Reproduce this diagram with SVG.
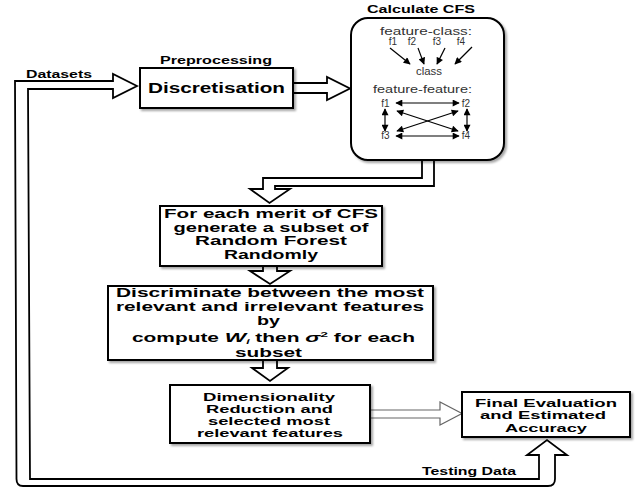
<svg xmlns="http://www.w3.org/2000/svg" width="641" height="487" viewBox="0 0 641 487">
<style>
.box{fill:#fff;stroke:#000;stroke-width:2;filter:url(#sh)}
.t{font-family:"Liberation Sans",Arial,sans-serif;font-weight:bold;fill:#000;text-anchor:middle}
.cf{font-family:"Liberation Sans",Arial,sans-serif;font-size:10px;fill:#333;text-anchor:middle}
.ha{fill:#fff;stroke:#000;stroke-width:1.8;stroke-linejoin:miter}
.thin{fill:#fff;stroke:#666;stroke-width:1.2}
.a1{stroke:#000;stroke-width:1.2;fill:none;marker-end:url(#ah)}
.a2{stroke:#000;stroke-width:1.2;fill:none;marker-end:url(#ah);marker-start:url(#ah)}
</style>
<defs>
<filter id="sh" x="-10%" y="-10%" width="130%" height="130%">
<feDropShadow dx="2" dy="2" stdDeviation="1" flood-color="#000" flood-opacity="0.35"/>
</filter>
<marker id="ah" viewBox="0 0 10 10" refX="9" refY="5" markerWidth="8" markerHeight="7" markerUnits="userSpaceOnUse" orient="auto-start-reverse">
<path d="M0,0 L10,5 L0,10 z" fill="#000"/>
</marker>
</defs>
<rect width="641" height="487" fill="#fff"/>

<g id="connectors">
<path class="ha" d="M137,86 L113,74 L113,81 L15,81 L16.5,479 Q16.5,486 23,486 L548,486 Q555,486 555,479 L555,455 L567,455 L547,440 L527,455 L539,455 L539,479 L30,479 L28,89 L113,89 L113,98 Z"/>
<path class="ha" d="M293,83 L327,83 L327,77 L350,88.5 L327,100 L327,93 L293,93"/>
<path class="ha" d="M422,160 L422,178 L263,178 L263,189 L250,189 L269.5,203 L290,189 L275,189 L275,186 L434,186 L434,160"/>
<path class="ha" d="M263,266 L263,271 L250,271 L270,284 L290,271 L277,271 L277,266"/>
<path class="ha" d="M263,360 L263,368 L252,368 L270,381 L288,368 L277,368 L277,360"/>
<path class="thin" d="M370,410 L440,410 L440,402 L462,413.5 L440,425 L440,418 L370,418"/>
<text class="t" x="59" y="78" font-size="10" textLength="66" lengthAdjust="spacingAndGlyphs">Datasets</text>
<text class="t" x="469" y="475" font-size="10" textLength="94" lengthAdjust="spacingAndGlyphs">Testing Data</text>
</g>

<g id="discretisation">
<text class="t" x="216" y="64" font-size="10" textLength="112" lengthAdjust="spacingAndGlyphs">Preprocessing</text>
<rect class="box" x="140" y="68" width="153" height="40"/>
<text class="t" x="216.5" y="93" font-size="14" textLength="137" lengthAdjust="spacingAndGlyphs">Discretisation</text>
</g>

<g id="cfs">
<text class="t" x="421" y="13" font-size="10" textLength="108" lengthAdjust="spacingAndGlyphs">Calculate CFS</text>
<rect class="box" x="351" y="18" width="153" height="142" rx="17"/>
<text class="cf" x="426" y="35" textLength="92" lengthAdjust="spacingAndGlyphs">feature-class:</text>
<text class="cf" x="393" y="45">f1</text>
<text class="cf" x="412" y="45">f2</text>
<text class="cf" x="437" y="45">f3</text>
<text class="cf" x="461" y="45">f4</text>
<text class="cf" x="429" y="75" textLength="26" lengthAdjust="spacingAndGlyphs">class</text>
<text class="cf" x="422.5" y="93" textLength="99" lengthAdjust="spacingAndGlyphs">feature-feature:</text>
<text class="cf" x="385.5" y="107">f1</text>
<text class="cf" x="466" y="107">f2</text>
<text class="cf" x="385.5" y="139">f3</text>
<text class="cf" x="466" y="139">f4</text>
<line class="a1" x1="390" y1="48" x2="410" y2="64"/>
<line class="a1" x1="418" y1="48" x2="424" y2="64"/>
<line class="a1" x1="445" y1="48" x2="437" y2="64"/>
<line class="a1" x1="472" y1="47" x2="455" y2="64"/>
<line class="a2" x1="396" y1="103" x2="459" y2="103"/>
<line class="a2" x1="396" y1="136" x2="459" y2="136"/>
<line class="a2" x1="385" y1="109" x2="385" y2="131"/>
<line class="a2" x1="467" y1="109" x2="467" y2="131"/>
<line class="a2" x1="397" y1="111" x2="458" y2="131"/>
<line class="a2" x1="458" y1="111" x2="397" y2="131"/>
</g>

<g id="subset">
<rect class="box" x="160" y="206" width="222" height="60"/>
<text class="t" x="271" y="218" font-size="12" textLength="214" lengthAdjust="spacingAndGlyphs">For each merit of CFS</text>
<text class="t" x="271" y="232" font-size="12" textLength="195" lengthAdjust="spacingAndGlyphs">generate a subset of</text>
<text class="t" x="271" y="245" font-size="12" textLength="152" lengthAdjust="spacingAndGlyphs">Random Forest</text>
<text class="t" x="271" y="259" font-size="12" textLength="94" lengthAdjust="spacingAndGlyphs">Randomly</text>
</g>

<g id="discriminate">
<rect class="box" x="108" y="286" width="325" height="74"/>
<text class="t" x="270" y="297" font-size="12" textLength="308" lengthAdjust="spacingAndGlyphs">Discriminate between the most</text>
<text class="t" x="270" y="311" font-size="12" textLength="308" lengthAdjust="spacingAndGlyphs">relevant and irrelevant features</text>
<text class="t" x="268.5" y="325" font-size="12" textLength="23" lengthAdjust="spacingAndGlyphs">by</text>
<text class="t" x="273.5" y="342" font-size="12" textLength="283" lengthAdjust="spacingAndGlyphs">compute <tspan font-style="italic" font-size="13">W</tspan><tspan font-style="italic" font-size="7" dy="1.5">i</tspan><tspan dy="-1.5"> then </tspan><tspan font-style="italic" font-size="13">σ</tspan><tspan font-size="8" dy="-5">2</tspan><tspan dy="5"> for each</tspan></text>
<text class="t" x="268.5" y="357" font-size="12" textLength="67" lengthAdjust="spacingAndGlyphs">subset</text>
</g>

<g id="reduction">
<rect class="box" x="170" y="385" width="200" height="58"/>
<text class="t" x="269" y="401" font-size="11" textLength="132" lengthAdjust="spacingAndGlyphs">Dimensionality</text>
<text class="t" x="269.5" y="413" font-size="11" textLength="127" lengthAdjust="spacingAndGlyphs">Reduction and</text>
<text class="t" x="269" y="425" font-size="11" textLength="122" lengthAdjust="spacingAndGlyphs">selected most</text>
<text class="t" x="270" y="437" font-size="11" textLength="146" lengthAdjust="spacingAndGlyphs">relevant features</text>
</g>

<g id="final">
<rect class="box" x="462" y="392" width="168" height="45"/>
<text class="t" x="546" y="407" font-size="11" textLength="142" lengthAdjust="spacingAndGlyphs">Final Evaluation</text>
<text class="t" x="543" y="419" font-size="11" textLength="126" lengthAdjust="spacingAndGlyphs">and Estimated</text>
<text class="t" x="546" y="432" font-size="11" textLength="82" lengthAdjust="spacingAndGlyphs">Accuracy</text>
</g>
</svg>
